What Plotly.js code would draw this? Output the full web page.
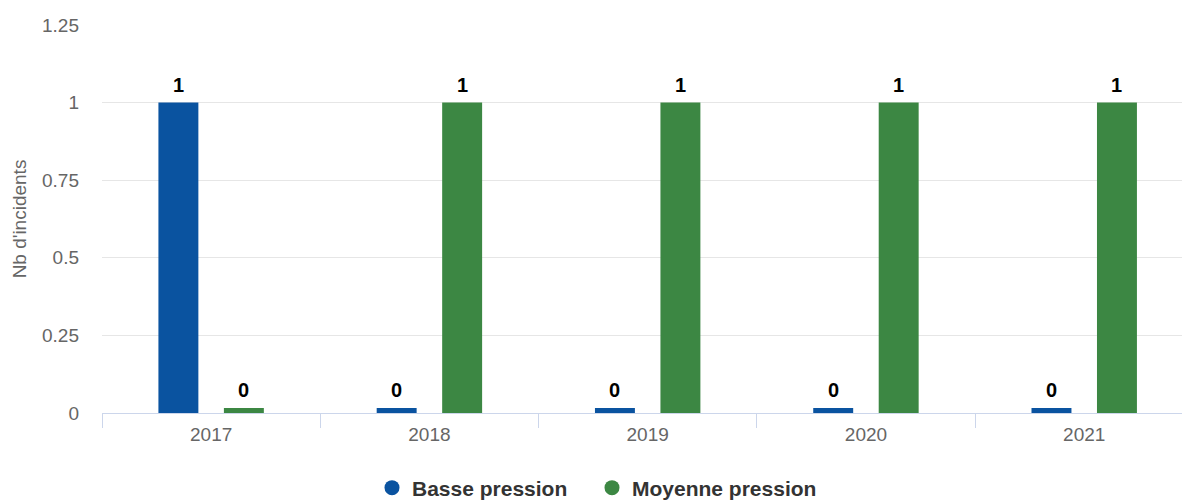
<!DOCTYPE html>
<html>
<head>
<meta charset="utf-8">
<script src="https://cdn.plot.ly/plotly-3.0.1.min.js"></script>
<style>html,body{margin:0;padding:0;background:#fff;}#chart{width:1182px;height:500px;}</style>
</head>
<body>
<div id="chart"></div>
<script>
const categories = ["2017", "2018", "2019", "2020", "2021"];
const bassePression = [1, 0, 0, 0, 0];
const moyennePression = [0, 1, 1, 1, 1];
const seriesNames = ["Basse pression", "Moyenne pression"];
const seriesColors = ["#0a53a0", "#3c8743"];
const yTitle = "Nb d'incidents";

const FONT = "Liberation Sans, Arial, Helvetica, sans-serif";
const yMax = 1.25;
const plotHeightPx = 388;
const minPointPx = 5; // minimum visible bar height, like a min point length
const minVal = minPointPx / plotHeightPx * yMax;
const bargap = 0.4;
const slot = (1 - bargap) / 2;
const legendIds = ["legend", "legend2"];

const series = [bassePression, moyennePression];
const traces = [];
const annotations = [];
series.forEach((vals, s) => {
  const shown = vals.map(v => Math.max(v, minVal));
  traces.push({
    type: "bar",
    x: categories,
    y: shown,
    name: seriesNames[s],
    marker: {color: seriesColors[s], line: {width: 0}},
    showlegend: false,
    hoverinfo: "skip"
  });
  traces.push({
    type: "scatter",
    mode: "markers",
    x: [null], y: [null],
    name: seriesNames[s],
    legend: legendIds[s],
    marker: {color: seriesColors[s], size: 15, symbol: "circle"},
    showlegend: true
  });
  vals.forEach((v, i) => {
    annotations.push({
      x: i + (s === 0 ? -slot / 2 : slot / 2),
      y: shown[i],
      xref: "x", yref: "y",
      text: "<b>" + v + "</b>",
      showarrow: false,
      yanchor: "bottom",
      yshift: 5,
      font: {family: FONT, size: 20, color: "#000000"}
    });
  });
});

function legendStyle(xPos) {
  return {
    orientation: "h",
    xref: "container", yref: "container",
    x: xPos, xanchor: "left",
    y: 0.024, yanchor: "middle",
    bgcolor: "rgba(0,0,0,0)",
    font: {family: FONT, size: 21, color: "#333333", weight: "bold"},
    itemclick: false, itemdoubleclick: false
  };
}

const layout = {
  width: 1182, height: 500,
  margin: {l: 102, r: 0, t: 25, b: 87},
  paper_bgcolor: "#ffffff",
  plot_bgcolor: "#ffffff",
  barmode: "group",
  bargap: bargap,
  bargroupgap: 0.39,
  font: {family: FONT, color: "#666666"},
  xaxis: {
    type: "category",
    range: [-0.5, 4.448],
    tickson: "boundaries",
    ticks: "outside",
    ticklen: 14,
    tickcolor: "#ccd6eb",
    tickwidth: 1,
    showline: true,
    linecolor: "#ccd6eb",
    linewidth: 1,
    showgrid: false,
    zeroline: false,
    ticklabelstandoff: 4,
    tickfont: {family: FONT, size: 19, color: "#666666"},
    fixedrange: true
  },
  yaxis: {
    range: [0, yMax],
    dtick: 0.25,
    tick0: 0,
    showgrid: true,
    gridcolor: "#e6e6e6",
    gridwidth: 1,
    zeroline: false,
    showline: false,
    ticks: "",
    ticklabelstandoff: 22,
    tickfont: {family: FONT, size: 19, color: "#666666"},
    title: {text: yTitle, font: {family: FONT, size: 19, color: "#666666"}, standoff: 10},
    fixedrange: true
  },
  legend: legendStyle(372 / 1182),
  legend2: legendStyle(592 / 1182),
  annotations: annotations,
  showlegend: true
};

Plotly.newPlot("chart", traces, layout, {displayModeBar: false, staticPlot: true});
</script>
</body>
</html>
